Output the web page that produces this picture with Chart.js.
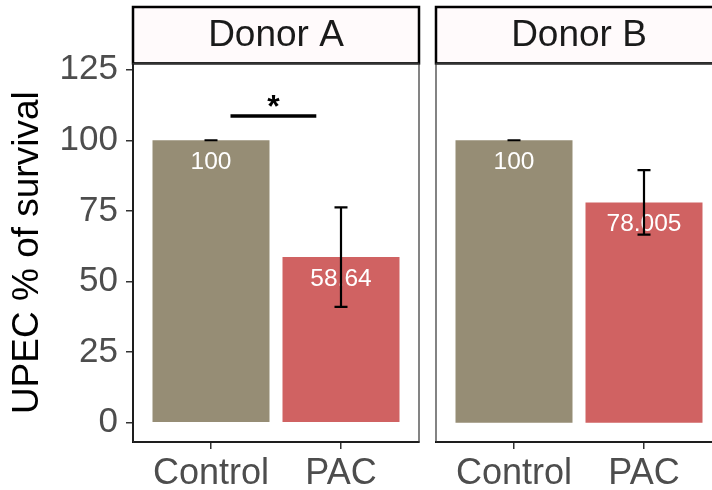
<!DOCTYPE html>
<html>
<head>
<meta charset="utf-8">
<script src="https://cdn.jsdelivr.net/npm/chart.js@4/dist/chart.umd.min.js"></script>
<style>
  html, body { margin: 0; padding: 0; background: #ffffff; }
  #wrap { position: relative; width: 712px; height: 490px; overflow: hidden; background: #ffffff; }
  #wrap canvas { position: absolute; left: 0; top: 0; }
</style>
</head>
<body>
<div id="wrap">
  <canvas id="cA" width="730" height="490"></canvas>
  <canvas id="cB" width="730" height="490"></canvas>
</div>
<script>
// ---- data ----
const categories = ['Control', 'PAC'];
const panelNames = ['Donor A', 'Donor B'];
const donorAMeans = [100, 58.64];
const donorBMeans = [100, 78.005];
const donorAErrors = [0, 17.6];
const donorBErrors = [0, 11.4];
const donorALabels = ['100', '58.64'];
const donorBLabels = ['100', '78.005'];
const barColors = ['#968D75', '#D06262'];
const yTicks = [0, 25, 50, 75, 100, 125];
const yAxisTitle = 'UPEC % of survival';
// significance bracket for Donor A (from/to in category units, y in data units)
const sigFrom = 1.15;
const sigTo = 1.81;
const sigY = 108.6;
const sigLabel = '*';

const FONT = '"Liberation Sans", Arial, Helvetica, sans-serif';
Chart.defaults.font.family = FONT;

const decor = {
  id: 'decor',
  beforeDraw(chart) {
    const ctx = chart.ctx, ca = chart.chartArea;
    ctx.save();
    ctx.fillStyle = '#FFFAFB';
    ctx.fillRect(ca.left, 7, ca.right - ca.left, ca.top - 7);
    ctx.strokeStyle = '#000000';
    ctx.lineWidth = 2.5;
    ctx.strokeRect(ca.left, 7, ca.right - ca.left, ca.top - 7);
    ctx.restore();
  },
  afterDatasetsDraw(chart) {
    const ctx = chart.ctx, ca = chart.chartArea;
    const xs = chart.scales.x, ys = chart.scales.y;
    const o = chart.options.plugins.decor;
    ctx.save();
    // panel frame
    ctx.strokeStyle = '#333333';
    ctx.lineWidth = 1.2;
    ctx.strokeRect(ca.left, ca.top, ca.right - ca.left, ca.bottom - ca.top);
    // value labels
    ctx.fillStyle = '#ffffff';
    ctx.font = '24.5px ' + FONT;
    ctx.textAlign = 'center';
    ctx.textBaseline = 'middle';
    o.means.forEach((m, i) => {
      ctx.fillText(o.labels[i], xs.getPixelForValue(i + 1), ys.getPixelForValue(m) + 22);
    });
    // error bars
    ctx.strokeStyle = '#000000';
    ctx.lineWidth = 2.2;
    o.means.forEach((m, i) => {
      const e = o.errors[i];
      const x = xs.getPixelForValue(i + 1);
      const xl = xs.getPixelForValue(i + 1 - 0.05), xr = xs.getPixelForValue(i + 1 + 0.05);
      const yt = ys.getPixelForValue(m + e), yb = ys.getPixelForValue(m - e);
      ctx.beginPath();
      ctx.moveTo(x, yt); ctx.lineTo(x, yb);
      ctx.moveTo(xl, yt); ctx.lineTo(xr, yt);
      ctx.moveTo(xl, yb); ctx.lineTo(xr, yb);
      ctx.stroke();
    });
    // significance
    if (o.sig) {
      const y = ys.getPixelForValue(o.sig.y);
      const x1 = xs.getPixelForValue(o.sig.from), x2 = xs.getPixelForValue(o.sig.to);
      ctx.lineWidth = 3.5;
      ctx.beginPath();
      ctx.moveTo(x1, y); ctx.lineTo(x2, y);
      ctx.stroke();
      ctx.fillStyle = '#000000';
      ctx.font = 'bold 32px ' + FONT;
      ctx.textBaseline = 'alphabetic';
      ctx.fillText(o.sig.label, (x1 + x2) / 2, y + 1);
    }
    ctx.restore();
  }
};

function makeChart(id, idx, means, errors, labels, sig, showY) {
  const pad = showY ? { left: 0, right: 730 - 419, top: 0, bottom: 0 }
                    : { left: 436, right: 730 - 722, top: 0, bottom: 0 };
  return new Chart(document.getElementById(id), {
    type: 'bar',
    data: {
      datasets: [{
        data: means.map((v, i) => ({ x: i + 1, y: v })),
        backgroundColor: barColors,
        borderWidth: 0,
        barPercentage: 0.9,
        categoryPercentage: 1
      }]
    },
    options: {
      responsive: false,
      animation: false,
      devicePixelRatio: 1,
      layout: { padding: pad },
      plugins: {
        legend: { display: false },
        tooltip: { enabled: false },
        title: {
          display: true,
          text: panelNames[idx],
          fullSize: false,
          color: '#1A1A1A',
          font: { size: 37, weight: 'normal', lineHeight: 1.2 },
          padding: { top: 14, bottom: 5 }
        },
        decor: { means: means, errors: errors, labels: labels, sig: sig }
      },
      scales: {
        x: {
          type: 'linear',
          offset: false,
          min: 0.4,
          max: 2.6,
          afterBuildTicks: s => { s.ticks = categories.map((c, i) => ({ value: i + 1 })); },
          afterFit: s => { s.height = 48; },
          ticks: {
            autoSkip: false,
            maxRotation: 0,
            padding: 3,
            color: '#4D4D4D',
            font: { size: 36 },
            callback: v => categories[v - 1]
          },
          grid: { display: true, offset: false, drawOnChartArea: false, drawTicks: true, tickLength: 7, color: '#333333', lineWidth: 1.5 },
          border: { display: true, color: '#000000', width: 2 }
        },
        y: {
          display: showY,
          min: -6.8,
          max: 127.2,
          afterBuildTicks: s => { s.ticks = yTicks.map(v => ({ value: v })); },
          afterFit: s => { if (showY) s.width = 133; },
          ticks: {
            padding: 8,
            color: '#4D4D4D',
            font: { size: 35 }
          },
          grid: { display: true, offset: false, drawOnChartArea: false, drawTicks: true, tickLength: 7, color: '#333333', lineWidth: 1.5 },
          border: { display: true, color: '#000000', width: 2 },
          title: {
            display: true,
            text: yAxisTitle,
            color: '#000000',
            font: { size: 37, lineHeight: 1.2 },
            padding: { top: 6, bottom: 0 }
          }
        }
      }
    },
    plugins: [decor]
  });
}

makeChart('cA', 0, donorAMeans, donorAErrors, donorALabels, { from: sigFrom, to: sigTo, y: sigY, label: sigLabel }, true);
makeChart('cB', 1, donorBMeans, donorBErrors, donorBLabels, null, false);
</script>
</body>
</html>
